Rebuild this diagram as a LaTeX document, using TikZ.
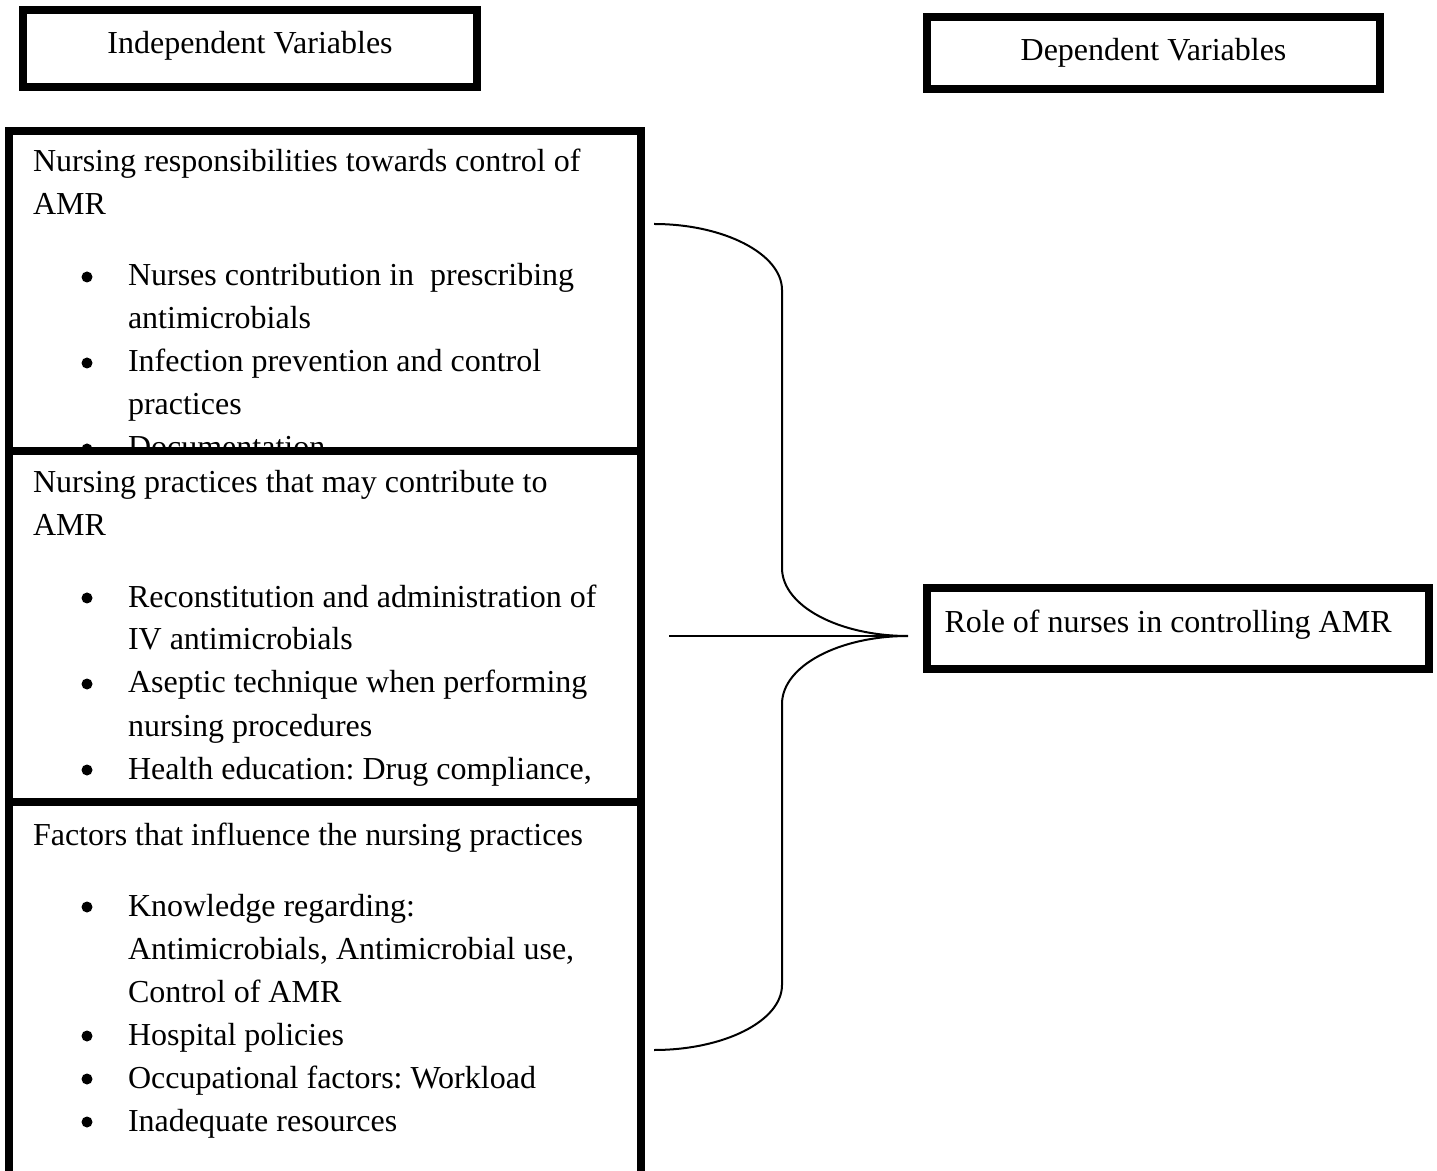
\documentclass[tikz,border=0pt]{standalone}
\usepackage{fontspec}
\setmainfont{Liberation Serif}
\frenchspacing
\newcommand\tline[4]{\node[txt, anchor=base west] (#1) at (#2,#3) {#4};}
\newcommand\bline[3]{\node[bulletdot] (#1b) at (87,#2-9) {};\node[txt, anchor=base west] (#1) at (128,#2) {#3};}
\begin{document}
\begin{tikzpicture}[x=0.375pt, y=-0.375pt,
  heavy/.style={draw=black, line width=3pt, fill=white, inner sep=0pt, outer sep=0pt},
  txt/.style={inner sep=0pt, outer sep=0pt, font=\fontsize{12}{14}\selectfont},
  bulletdot/.style={circle, fill=black, inner sep=0pt, minimum size={11*0.375pt}},
  link/.style={draw=black, line width=0.75pt}]
\useasboundingbox (0,0) rectangle (1437,1171);
\clip (0,0) rectangle (1437,1171);
\fill[white] (0,0) rectangle (1437,1171);

% header boxes
\node[heavy, minimum width={454*0.375pt}, minimum height={77.5*0.375pt}] (indep) at (250,48.75) {};
\node[txt, anchor=base] (indept) at (250,54) {Independent Variables};
\node[heavy, minimum width={453*0.375pt}, minimum height={72*0.375pt}] (dep) at (1153.5,53) {};
\node[txt, anchor=base] (dept) at (1153.5,61) {Dependent Variables};

% box 1
\node[heavy, minimum width={631.5*0.375pt}, minimum height={329*0.375pt}] (b1) at (324.75,295.5) {};
\tline{h1a}{33}{172}{Nursing responsibilities towards control of}
\tline{h1b}{33}{215}{AMR}
\bline{p1a}{286}{Nurses contribution in\ \ prescribing}
\tline{p1a2}{128}{329}{antimicrobials}
\bline{p1b}{372}{Infection prevention and control}
\tline{p1b2}{128}{415}{practices}
\bline{p1c}{458}{Documentation}

% box 2
\node[heavy, minimum width={631.5*0.375pt}, minimum height={360.5*0.375pt}] (b2) at (324.75,631.75) {};
\tline{h2a}{33}{493}{Nursing practices that may contribute to}
\tline{h2b}{33}{536}{AMR}
\bline{p2a}{607}{Reconstitution and administration of}
\tline{p2a2}{128}{650}{IV antimicrobials}
\bline{p2b}{693}{Aseptic technique when performing}
\tline{p2b2}{128}{736}{nursing procedures}
\bline{p2c}{779}{Health education: Drug compliance,}

% box 3
\node[heavy, minimum width={631.5*0.375pt}, minimum height={378*0.375pt}] (b3) at (324.75,991) {};
\tline{h3a}{33}{845}{Factors that influence the nursing practices}
\bline{p3a}{916}{Knowledge regarding:}
\tline{p3a2}{128}{959}{Antimicrobials, Antimicrobial use,}
\tline{p3a3}{128}{1002}{Control of AMR}
\bline{p3b}{1045}{Hospital policies}
\bline{p3c}{1088}{Occupational factors: Workload}
\bline{p3d}{1131}{Inadequate resources}

% dependent variable
\node[heavy, minimum width={501.5*0.375pt}, minimum height={81*0.375pt}] (role) at (1177.75,628.5) {};
\node[txt, anchor=base west] (rolet) at (944.5,632) {Role of nurses in controlling AMR};

% brace
\coordinate (bt) at (654,224);
\coordinate (bb) at (654,1050);
\coordinate (tip) at (908,636);
\coordinate (hl) at (669,636);
\draw[link] (bt) .. controls (724,224) and (782,254) .. (782,290)
  -- (782,568) .. controls (782,606) and (839,636) .. (tip)
  .. controls (839,636) and (782,666) .. (782,704)
  -- (782,985) .. controls (782,1021) and (724,1050) .. (bb);
\draw[link] (hl) -- (tip);
\end{tikzpicture}
\end{document}
